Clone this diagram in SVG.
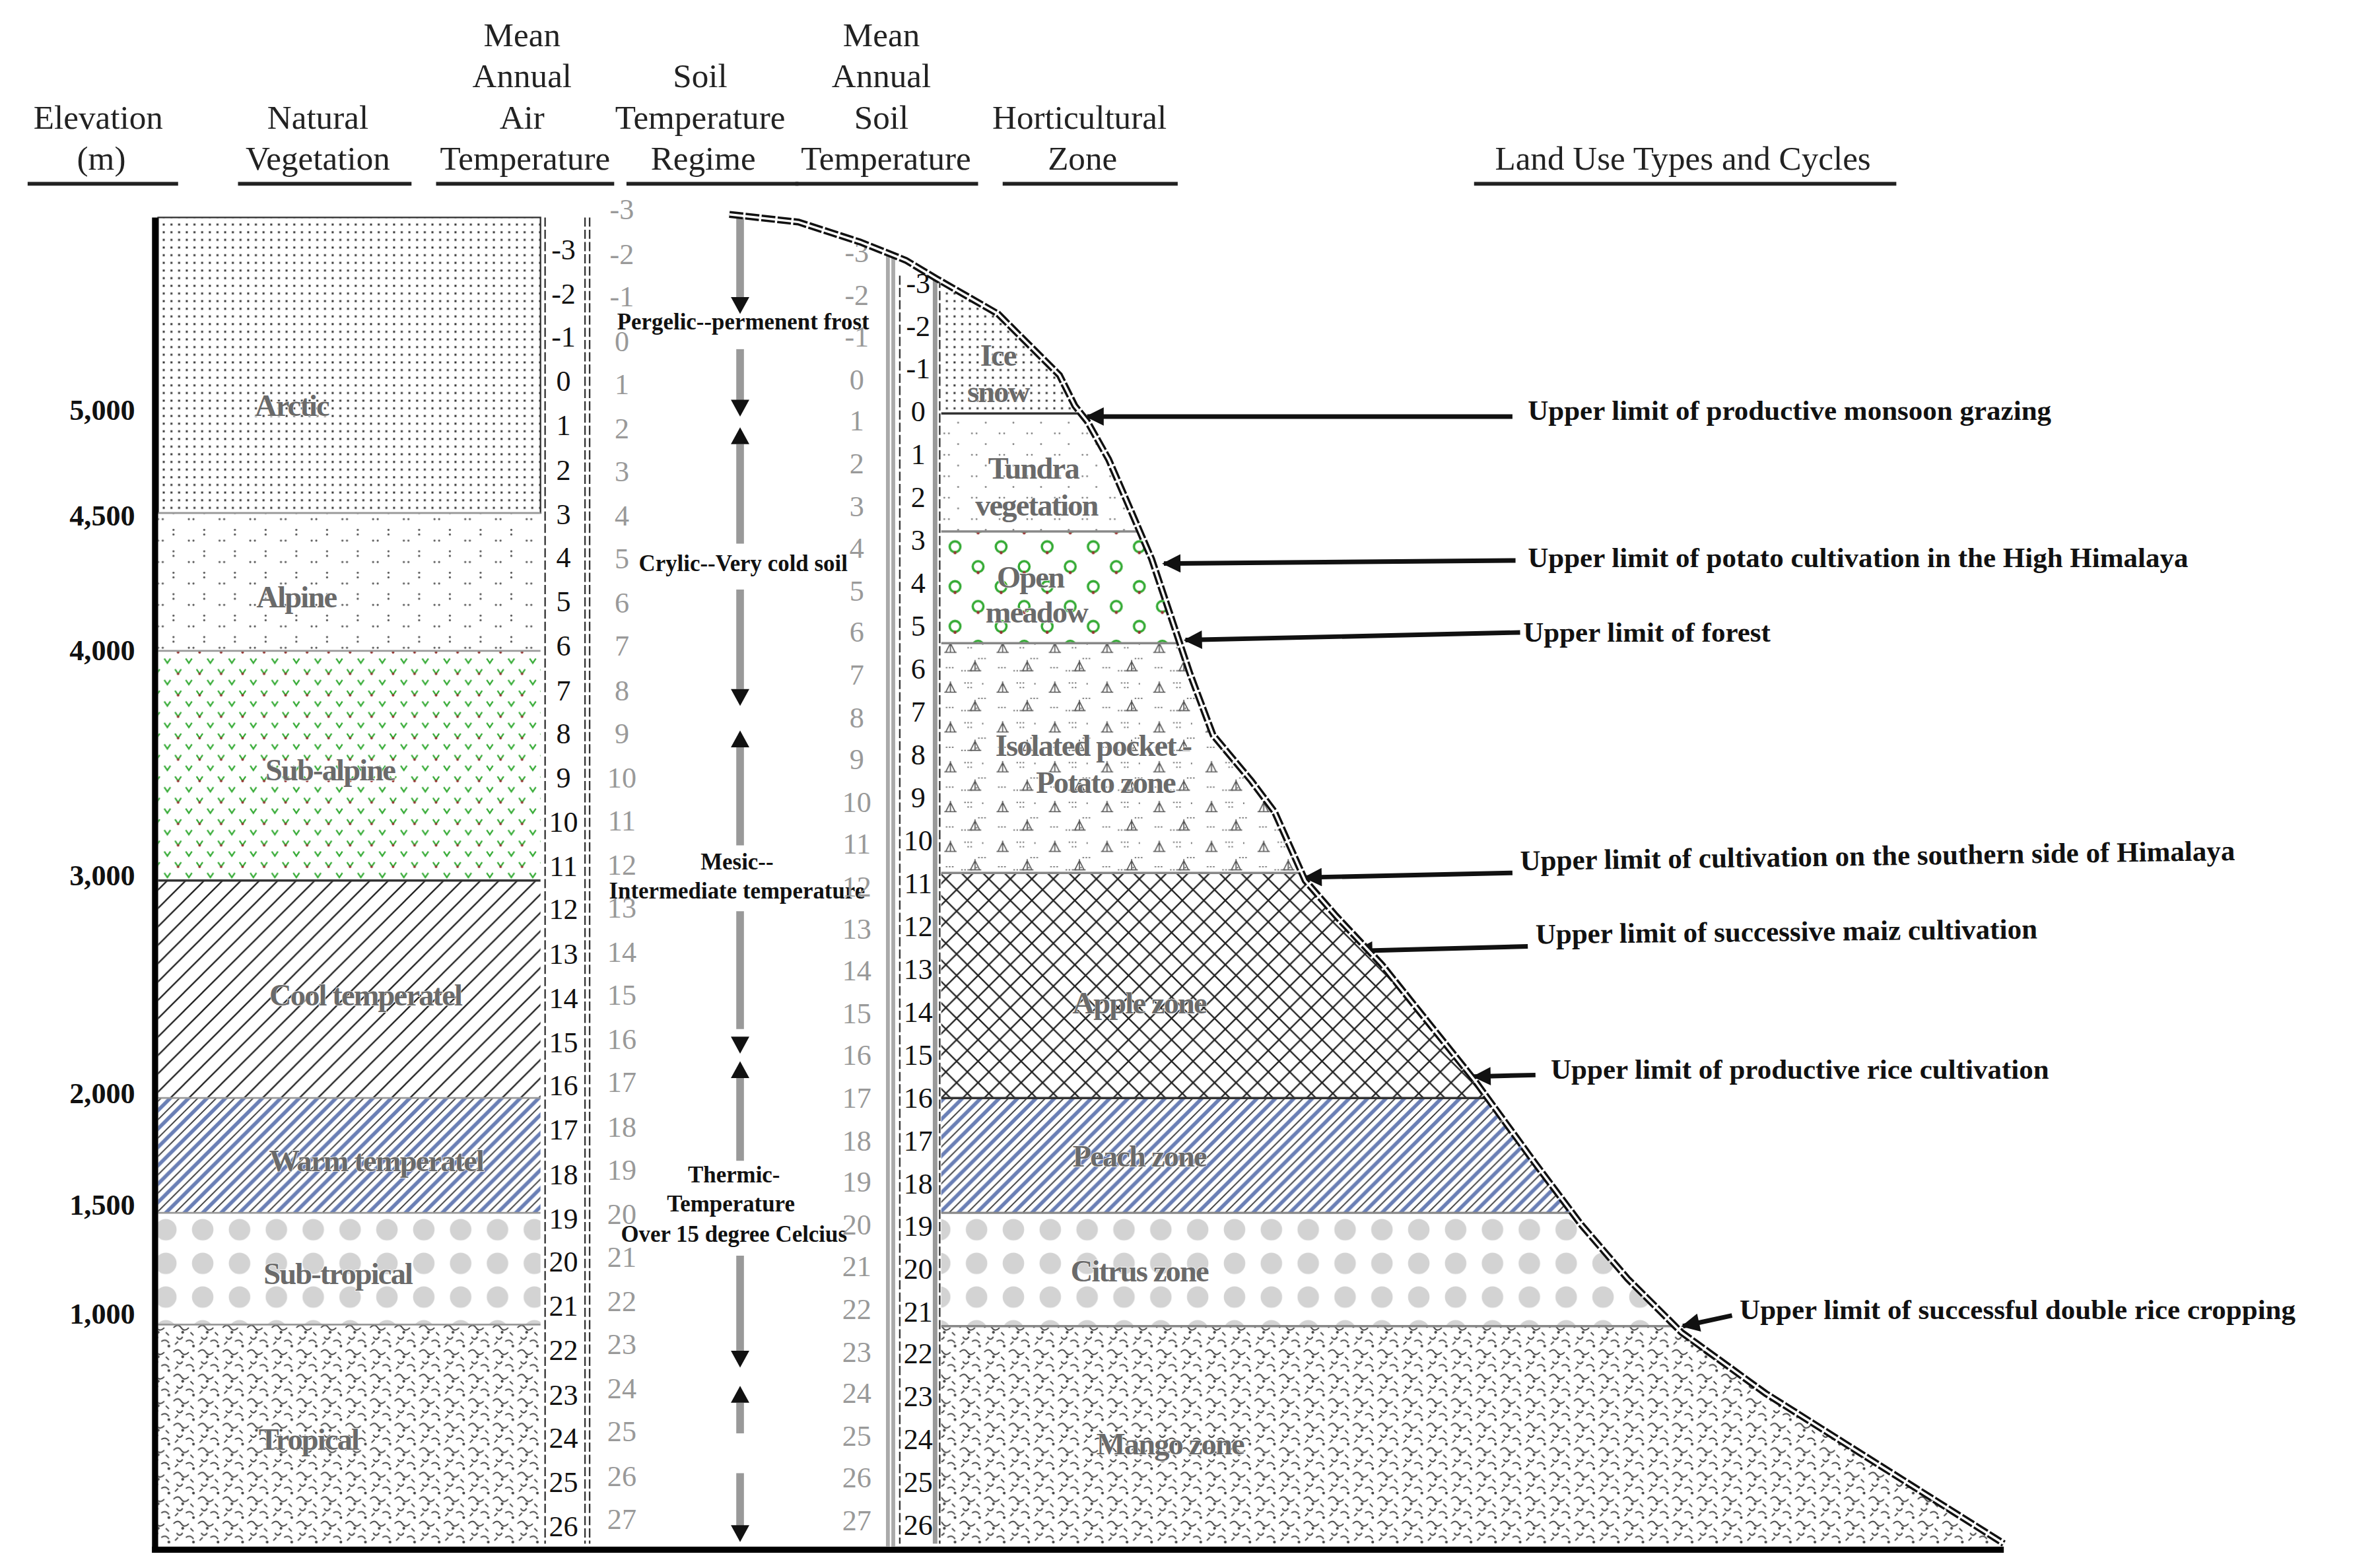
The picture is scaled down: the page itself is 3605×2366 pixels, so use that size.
<svg xmlns="http://www.w3.org/2000/svg" width="3605" height="2366" viewBox="0 0 3605 2366">
<style>
.h{font-family:"Liberation Serif",serif;font-size:22px;fill:#222;text-anchor:middle}
.ul{stroke:#222;stroke-width:2.5}
.el{font-family:"Liberation Serif",serif;font-size:19px;font-weight:bold;fill:#111;text-anchor:end;dominant-baseline:central}
.n{font-family:"Liberation Serif",serif;font-size:19px;fill:#111;text-anchor:middle;dominant-baseline:central}
.g{font-family:"Liberation Serif",serif;font-size:19px;fill:#999;text-anchor:middle;dominant-baseline:central}
.z{font-family:"Liberation Serif",serif;font-size:20px;font-weight:bold;fill:#6a6a6a;stroke:#fff;stroke-width:0.6;paint-order:stroke;text-anchor:middle;dominant-baseline:central;letter-spacing:-0.8px}
.r{font-family:"Liberation Serif",serif;font-size:15px;font-weight:bold;fill:#111;text-anchor:middle;dominant-baseline:central}
.lu{font-family:"Liberation Serif",serif;font-size:18.5px;font-weight:bold;fill:#111;dominant-baseline:central}
.arr{stroke:#111;stroke-width:3;fill:none;marker-end:url(#ah)}
.bd{stroke:#999;stroke-width:1.2}
</style>
<defs>
<marker id="ah" viewBox="0 0 10 10" refX="9" refY="5" markerWidth="5" markerHeight="4" orient="auto"><path d="M0,0L10,5L0,10z" fill="#111"/></marker>
<marker id="ad" viewBox="0 0 10 10" refX="9" refY="5" markerWidth="4" markerHeight="4" orient="auto"><path d="M0,0L10,5L0,10z" fill="#111"/></marker>
<pattern id="pDot" width="5" height="5" patternUnits="userSpaceOnUse"><rect width="5" height="5" fill="#fff"/><rect x="1" y="1" width="1.3" height="1.3" fill="#333"/></pattern>
<pattern id="pAlp" width="20" height="14" patternUnits="userSpaceOnUse"><rect width="20" height="14" fill="#fff"/><circle cx="3" cy="3" r="0.7" fill="#555"/><circle cx="6" cy="3" r="0.7" fill="#555"/><circle cx="13" cy="10" r="0.7" fill="#555"/><circle cx="13" cy="13" r="0.7" fill="#555"/></pattern>
<pattern id="pSub" width="14" height="14" patternUnits="userSpaceOnUse"><rect width="14" height="14" fill="#fff"/><path d="M2,3l2,3l2,-3" stroke="#3a3" stroke-width="1" fill="none"/><circle cx="4" cy="6" r="0.8" fill="#933"/><path d="M9,10l2,3l2,-3" stroke="#3a3" stroke-width="1" fill="none"/></pattern>
<pattern id="pDiag" width="12" height="12" patternUnits="userSpaceOnUse"><rect width="12" height="12" fill="#fff"/><path d="M-3,15L15,-3M-3,3L3,-3M9,15L15,9" stroke="#222" stroke-width="1"/></pattern>
<pattern id="pWarm" width="12" height="12" patternUnits="userSpaceOnUse"><rect width="12" height="12" fill="#fff"/><path d="M-3,15L15,-3M-3,3L3,-3M9,15L15,9" stroke="#6a7fb5" stroke-width="2.4"/><path d="M3,15L15,3M-3,9L9,-3" stroke="#333" stroke-width="0.8"/></pattern>
<pattern id="pCirc" width="24" height="22" patternUnits="userSpaceOnUse"><rect width="24" height="22" fill="#fff"/><circle cx="12" cy="11" r="7" fill="#d3d3d3"/></pattern>
<pattern id="pTrop" width="16" height="16" patternUnits="userSpaceOnUse"><rect width="16" height="16" fill="#fff"/><path d="M1,3q3,-3 5,0t5,0M3,9q2,3 4,0M9,12q3,-2 5,1M12,6l2,2M2,14l2,-2" stroke="#444" stroke-width="0.8" fill="none"/><circle cx="7" cy="6" r="0.9" fill="#444"/><circle cx="14" cy="15" r="0.9" fill="#444"/></pattern>
<pattern id="pTun" width="18" height="14" patternUnits="userSpaceOnUse"><rect width="18" height="14" fill="#fff"/><circle cx="3" cy="3" r="0.6" fill="#777"/><circle cx="6" cy="3" r="0.6" fill="#777"/><circle cx="12" cy="10" r="0.6" fill="#777"/></pattern>
<pattern id="pMea" width="30" height="26" patternUnits="userSpaceOnUse"><rect width="30" height="26" fill="#fff"/><circle cx="7" cy="6" r="3.5" fill="none" stroke="#3a3" stroke-width="1.5"/><circle cx="7" cy="10" r="1" fill="#933"/><circle cx="22" cy="19" r="3.5" fill="none" stroke="#3a3" stroke-width="1.5"/><circle cx="22" cy="23" r="1" fill="#933"/></pattern>
<pattern id="pPot" width="34" height="26" patternUnits="userSpaceOnUse"><rect width="34" height="26" fill="#fff"/><path d="M4,10l3,-6M7,10v-7M10,10l-3,-6M3,10h8" stroke="#555" stroke-width="0.7"/><path d="M16,4h6M18,7h4M25,14h6M4,20h5M14,22h7M24,20l0,2M28,4l0,1" stroke="#666" stroke-width="0.8" stroke-dasharray="1 1"/><path d="M20,22l3,-6M23,22v-7M26,22l-3,-6M19,22h8" stroke="#555" stroke-width="0.7"/></pattern>
<pattern id="pCross" width="14" height="14" patternUnits="userSpaceOnUse"><rect width="14" height="14" fill="#fff"/><path d="M0,0L14,14M14,0L0,14" stroke="#222" stroke-width="1"/></pattern>
</defs>
<rect width="3605" height="2366" fill="#fff"/>
<g transform="scale(2.3258,2.3196)">
<g id="headers">
<text class="h" x="64" y="84">Elevation</text><text class="h" x="66" y="111">(m)</text>
<line class="ul" x1="18" y1="120" x2="116" y2="120"/>
<text class="h" x="207" y="84">Natural</text><text class="h" x="207" y="111">Vegetation</text>
<line class="ul" x1="155" y1="120" x2="268" y2="120"/>
<text class="h" x="340" y="30">Mean</text><text class="h" x="340" y="57">Annual</text><text class="h" x="340" y="84">Air</text><text class="h" x="342" y="111">Temperature</text>
<line class="ul" x1="284" y1="120" x2="400" y2="120"/>
<text class="h" x="456" y="57">Soil</text><text class="h" x="456" y="84">Temperature</text><text class="h" x="458" y="111">Regime</text>
<line class="ul" x1="408" y1="120" x2="520" y2="120"/>
<text class="h" x="574" y="30">Mean</text><text class="h" x="574" y="57">Annual</text><text class="h" x="574" y="84">Soil</text><text class="h" x="577" y="111">Temperature</text>
<line class="ul" x1="518" y1="120" x2="637" y2="120"/>
<text class="h" x="703" y="84">Horticultural</text><text class="h" x="705" y="111">Zone</text>
<line class="ul" x1="653" y1="120" x2="767" y2="120"/>
<text class="h" x="1096" y="111">Land Use Types and Cycles</text>
<line class="ul" x1="960" y1="120" x2="1235" y2="120"/>
</g>
<g id="elevation">
<text class="el" x="88" y="268">5,000</text><text class="el" x="88" y="337">4,500</text><text class="el" x="88" y="425">4,000</text><text class="el" x="88" y="572">3,000</text><text class="el" x="88" y="714">2,000</text><text class="el" x="88" y="787">1,500</text><text class="el" x="88" y="858">1,000</text>
</g>
<g id="vegetation">
<rect x="103" y="142" width="249" height="193" fill="url(#pDot)" stroke="#333" stroke-width="1"/>
<rect x="103" y="335" width="249" height="90" fill="url(#pAlp)"/>
<rect x="103" y="425" width="249" height="150" fill="url(#pSub)"/>
<rect x="103" y="575" width="249" height="142" fill="url(#pDiag)"/>
<rect x="103" y="717" width="249" height="75" fill="url(#pWarm)"/>
<rect x="103" y="792" width="249" height="73" fill="url(#pCirc)"/>
<rect x="103" y="865" width="249" height="143" fill="url(#pTrop)"/>
<line class="bd" x1="103" y1="335" x2="352" y2="335"/><line class="bd" x1="103" y1="425" x2="352" y2="425"/><line x1="103" y1="575" x2="352" y2="575" stroke="#333" stroke-width="1.5"/><line class="bd" x1="103" y1="717" x2="352" y2="717"/><line class="bd" x1="103" y1="792" x2="352" y2="792"/><line class="bd" x1="103" y1="865" x2="352" y2="865"/>
<text class="z" x="190" y="265">Arctic</text>
<text class="z" x="193" y="390">Alpine</text>
<text class="z" x="215" y="503">Sub-alpine</text>
<text class="z" x="238" y="650">Cool temperatel</text>
<text class="z" x="245" y="758">Warm temperatel</text>
<text class="z" x="220" y="832">Sub-tropical</text>
<text class="z" x="201" y="940">Tropical</text>
<line x1="101" y1="142" x2="101" y2="1014" stroke="#000" stroke-width="4"/>
<line x1="99" y1="1012" x2="1305" y2="1012" stroke="#000" stroke-width="4"/>
</g>
<g id="air-temp">
<line x1="355" y1="142" x2="355" y2="1008" stroke="#333" stroke-width="1" stroke-dasharray="6 2"/>
<line x1="381" y1="142" x2="381" y2="1008" stroke="#333" stroke-width="1" stroke-dasharray="6 2"/>
<line x1="384" y1="142" x2="384" y2="1008" stroke="#333" stroke-width="1" stroke-dasharray="6 2"/>
<text class="n" x="367" y="163">-3</text><text class="n" x="367" y="192">-2</text><text class="n" x="367" y="220">-1</text><text class="n" x="367" y="249">0</text><text class="n" x="367" y="278">1</text><text class="n" x="367" y="307">2</text><text class="n" x="367" y="336">3</text><text class="n" x="367" y="364">4</text><text class="n" x="367" y="393">5</text><text class="n" x="367" y="422">6</text><text class="n" x="367" y="451">7</text><text class="n" x="367" y="479">8</text><text class="n" x="367" y="508">9</text><text class="n" x="367" y="537">10</text><text class="n" x="367" y="566">11</text><text class="n" x="367" y="594">12</text><text class="n" x="367" y="623">13</text><text class="n" x="367" y="652">14</text><text class="n" x="367" y="681">15</text><text class="n" x="367" y="709">16</text><text class="n" x="367" y="738">17</text><text class="n" x="367" y="767">18</text><text class="n" x="367" y="796">19</text><text class="n" x="367" y="824">20</text><text class="n" x="367" y="853">21</text><text class="n" x="367" y="882">22</text><text class="n" x="367" y="911">23</text><text class="n" x="367" y="939">24</text><text class="n" x="367" y="968">25</text><text class="n" x="367" y="997">26</text>
</g>
<g id="soil-regime">
<text class="g" x="405" y="137">-3</text><text class="g" x="405" y="166">-2</text><text class="g" x="405" y="194">-1</text><text class="g" x="405" y="223">0</text><text class="g" x="405" y="251">1</text><text class="g" x="405" y="280">2</text><text class="g" x="405" y="308">3</text><text class="g" x="405" y="337">4</text><text class="g" x="405" y="365">5</text><text class="g" x="405" y="394">6</text><text class="g" x="405" y="422">7</text><text class="g" x="405" y="451">8</text><text class="g" x="405" y="479">9</text><text class="g" x="405" y="508">10</text><text class="g" x="405" y="536">11</text><text class="g" x="405" y="565">12</text><text class="g" x="405" y="593">13</text><text class="g" x="405" y="622">14</text><text class="g" x="405" y="650">15</text><text class="g" x="405" y="679">16</text><text class="g" x="405" y="707">17</text><text class="g" x="405" y="736">18</text><text class="g" x="405" y="764">19</text><text class="g" x="405" y="793">20</text><text class="g" x="405" y="821">21</text><text class="g" x="405" y="850">22</text><text class="g" x="405" y="878">23</text><text class="g" x="405" y="907">24</text><text class="g" x="405" y="935">25</text><text class="g" x="405" y="964">26</text><text class="g" x="405" y="992">27</text>
</g>
<g id="connectors">
<g stroke="#999" stroke-width="5" fill="none">
<line x1="482" y1="142" x2="482" y2="195"/>
<line x1="482" y1="228" x2="482" y2="262"/>
<line x1="482" y1="290" x2="482" y2="355"/>
<line x1="482" y1="385" x2="482" y2="450"/>
<line x1="482" y1="488" x2="482" y2="552"/>
<line x1="482" y1="595" x2="482" y2="672"/>
<line x1="482" y1="704" x2="482" y2="758"/>
<line x1="482" y1="820" x2="482" y2="882"/>
<line x1="482" y1="916" x2="482" y2="936"/>
<line x1="482" y1="962" x2="482" y2="998"/>
</g>
<g fill="#111">
<path d="M476,194h12l-6,11z"/><path d="M476,261h12l-6,11z"/><path d="M476,290h12l-6,-11z"/><path d="M476,450h12l-6,11z"/><path d="M476,488h12l-6,-11z"/><path d="M476,677h12l-6,11z"/><path d="M476,704h12l-6,-11z"/><path d="M476,882h12l-6,11z"/><path d="M476,916h12l-6,-11z"/><path d="M476,996h12l-6,11z"/>
</g>
<line class="arr" x1="985" y1="272" x2="708" y2="272"/>
<line class="arr" x1="987" y1="366" x2="758" y2="368"/>
<line class="arr" x1="990" y1="413" x2="772" y2="418"/>
<line class="arr" x1="985" y1="570" x2="850" y2="573"/>
<line class="arr" x1="995" y1="618" x2="883" y2="621"/>
<line class="arr" x1="1000" y1="702" x2="960" y2="703"/>
<line class="arr" x1="1128" y1="859" x2="1096" y2="866"/>
</g>
<g id="regime-labels">
<text class="r" x="484" y="210">Pergelic--permenent frost</text>
<text class="r" x="484" y="368">Crylic--Very cold soil</text>
<text class="r" x="480" y="563">Mesic--</text><text class="r" x="480" y="582">Intermediate temperature</text>
<text class="r" x="478" y="767">Thermic-</text><text class="r" x="476" y="786">Temperature</text><text class="r" x="478" y="806">Over 15 degree Celcius</text>
</g>
<g id="soil-temp">
<text class="g" x="558" y="165">-3</text><text class="g" x="558" y="193">-2</text><text class="g" x="558" y="220">-1</text><text class="g" x="558" y="248">0</text><text class="g" x="558" y="275">1</text><text class="g" x="558" y="303">2</text><text class="g" x="558" y="331">3</text><text class="g" x="558" y="358">4</text><text class="g" x="558" y="386">5</text><text class="g" x="558" y="413">6</text><text class="g" x="558" y="441">7</text><text class="g" x="558" y="469">8</text><text class="g" x="558" y="496">9</text><text class="g" x="558" y="524">10</text><text class="g" x="558" y="551">11</text><text class="g" x="558" y="579">12</text><text class="g" x="558" y="607">13</text><text class="g" x="558" y="634">14</text><text class="g" x="558" y="662">15</text><text class="g" x="558" y="689">16</text><text class="g" x="558" y="717">17</text><text class="g" x="558" y="745">18</text><text class="g" x="558" y="772">19</text><text class="g" x="558" y="800">20</text><text class="g" x="558" y="827">21</text><text class="g" x="558" y="855">22</text><text class="g" x="558" y="883">23</text><text class="g" x="558" y="910">24</text><text class="g" x="558" y="938">25</text><text class="g" x="558" y="965">26</text><text class="g" x="558" y="993">27</text>
<rect x="577" y="165" width="6" height="845" fill="#aaa"/>
<line x1="580" y1="165" x2="580" y2="1010" stroke="#fff" stroke-width="1"/>
</g>
<g id="horti-scale">
<line x1="586" y1="180" x2="586" y2="1008" stroke="#333" stroke-width="1" stroke-dasharray="6 2"/>
<line x1="609" y1="182" x2="609" y2="1008" stroke="#999" stroke-width="3"/>
<line x1="612" y1="182" x2="612" y2="1008" stroke="#333" stroke-width="1" stroke-dasharray="6 2"/>
<text class="n" x="598" y="185">-3</text><text class="n" x="598" y="213">-2</text><text class="n" x="598" y="241">-1</text><text class="n" x="598" y="269">0</text><text class="n" x="598" y="297">1</text><text class="n" x="598" y="325">2</text><text class="n" x="598" y="353">3</text><text class="n" x="598" y="381">4</text><text class="n" x="598" y="409">5</text><text class="n" x="598" y="437">6</text><text class="n" x="598" y="465">7</text><text class="n" x="598" y="493">8</text><text class="n" x="598" y="521">9</text><text class="n" x="598" y="549">10</text><text class="n" x="598" y="577">11</text><text class="n" x="598" y="605">12</text><text class="n" x="598" y="633">13</text><text class="n" x="598" y="661">14</text><text class="n" x="598" y="689">15</text><text class="n" x="598" y="717">16</text><text class="n" x="598" y="745">17</text><text class="n" x="598" y="773">18</text><text class="n" x="598" y="801">19</text><text class="n" x="598" y="829">20</text><text class="n" x="598" y="857">21</text><text class="n" x="598" y="884">22</text><text class="n" x="598" y="912">23</text><text class="n" x="598" y="940">24</text><text class="n" x="598" y="968">25</text><text class="n" x="598" y="996">26</text>
</g>
<g id="zones">
<polygon points="613,185 650,205 690,245 700,265 704,270 613,270" fill="url(#pDot)"/>
<polygon points="613,270 704,270 708,275 722,300 735,330 742,347 613,347" fill="url(#pTun)"/>
<polygon points="613,347 742,347 750,365 765,410 768,420 613,420" fill="url(#pMea)"/>
<polygon points="613,420 768,420 775,440 790,480 815,510 830,530 848,570 613,570" fill="url(#pPot)"/>
<polygon points="613,570 848,570 850,575 870,598 900,630 960,705 968,717 613,717" fill="url(#pCross)"/>
<polygon points="613,717 968,717 1000,760 1023,792 613,792" fill="url(#pWarm)"/>
<polygon points="613,792 1023,792 1030,800 1060,835 1091,866 613,866" fill="url(#pCirc)"/>
<polygon points="613,866 1091,866 1095,870 1150,910 1305,1008 613,1008" fill="url(#pTrop)"/>
<g stroke="#888" stroke-width="1.5"><line x1="613" y1="270" x2="704" y2="270" stroke="#333"/><line x1="613" y1="347" x2="742" y2="347"/><line x1="613" y1="420" x2="768" y2="420"/><line x1="613" y1="570" x2="848" y2="570"/><line x1="613" y1="717" x2="968" y2="717" stroke="#333"/><line x1="613" y1="792" x2="1023" y2="792"/><line x1="613" y1="866" x2="1091" y2="866"/></g>
<text class="z" x="650" y="232">Ice</text><text class="z" x="650" y="256">snow</text>
<text class="z" x="673" y="306">Tundra</text><text class="z" x="675" y="330">vegetation</text>
<text class="z" x="671" y="377">Open</text><text class="z" x="675" y="400">meadow</text>
<text class="z" x="712" y="487">Isolated pocket -</text><text class="z" x="720" y="511">Potato zone</text>
<text class="z" x="742" y="655">Apple zone</text>
<text class="z" x="742" y="755">Peach zone</text>
<text class="z" x="742" y="830">Citrus zone</text>
<text class="z" x="762" y="943">Mango zone</text>
</g>
<g id="slope">
<polyline points="475,140 520,145 560,158 590,170 610,182 650,205 690,245 700,265 708,275 722,300 735,330 750,365 765,410 775,440 790,480 815,510 830,530 850,575 870,598 900,630 960,705 1000,760 1030,800 1060,835 1095,870 1150,910 1305,1008" fill="none" stroke="#111" stroke-width="4.5" stroke-dasharray="9 1.5"/>
<polyline points="475,140 520,145 560,158 590,170 610,182 650,205 690,245 700,265 708,275 722,300 735,330 750,365 765,410 775,440 790,480 815,510 830,530 850,575 870,598 900,630 960,705 1000,760 1030,800 1060,835 1095,870 1150,910 1305,1008" fill="none" stroke="#fff" stroke-width="1.5"/>
</g>
<g id="land-use">
<text class="lu" x="995" y="268">Upper limit of productive monsoon grazing</text>
<text class="lu" x="995" y="364">Upper limit of potato cultivation in the High Himalaya</text>
<text class="lu" x="992" y="413">Upper limit of forest</text>
<text class="lu" x="990" y="562" transform="rotate(-0.8 990 562)">Upper limit of cultivation on the southern side of Himalaya</text>
<text class="lu" x="1000" y="610" transform="rotate(-0.6 1000 610)">Upper limit of successive maiz cultivation</text>
<text class="lu" x="1010" y="698">Upper limit of productive rice cultivation</text>
<text class="lu" x="1133" y="855">Upper limit of successful double rice cropping</text>
</g>
</g>
</svg>
